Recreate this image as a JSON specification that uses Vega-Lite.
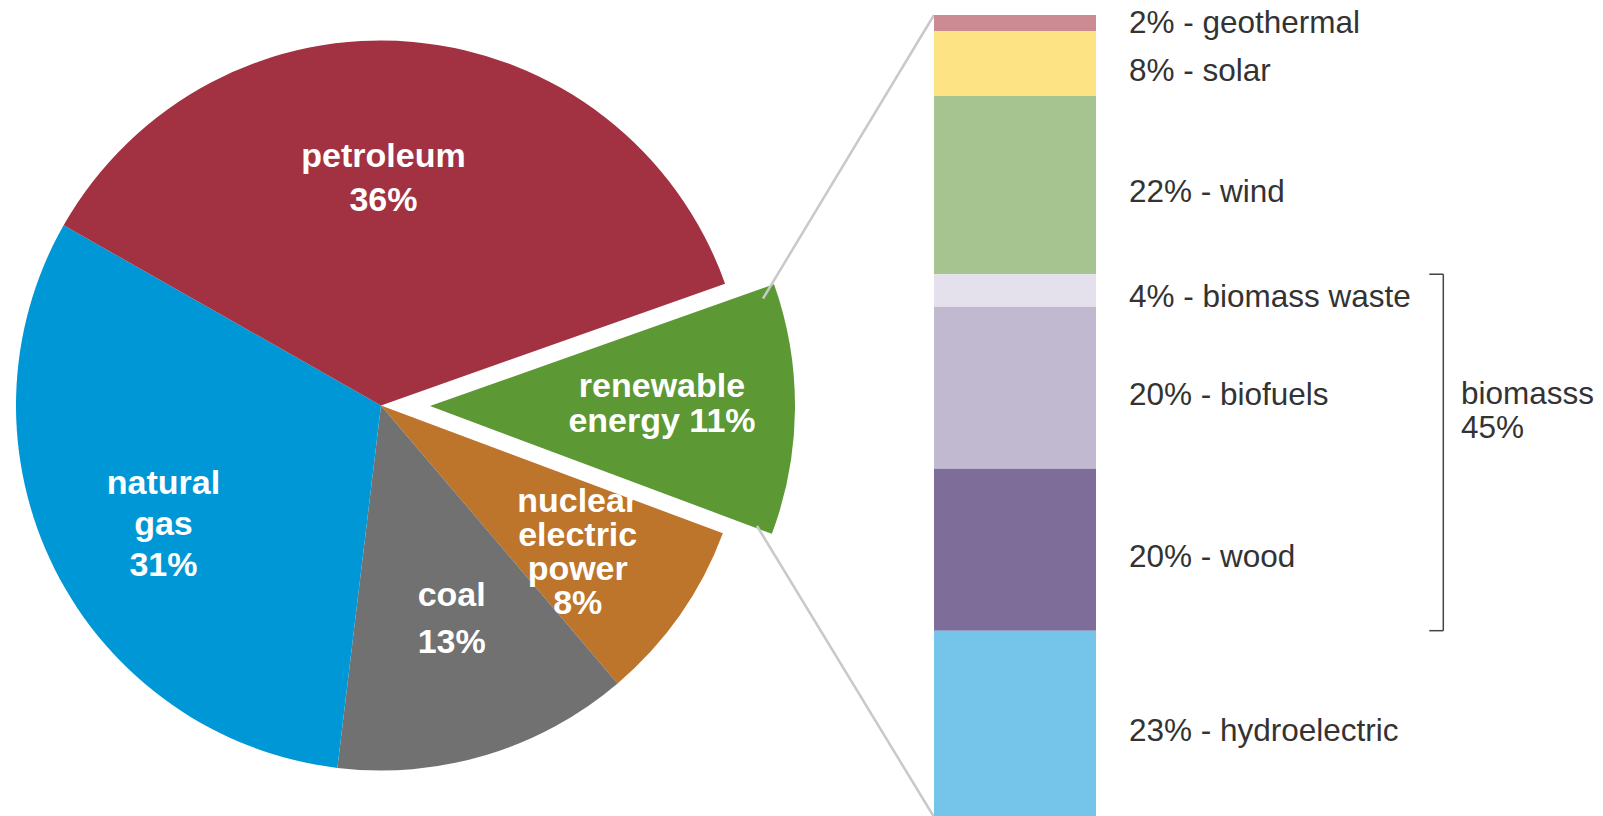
{
  "$schema": "https://vega.github.io/schema/vega-lite/v6.json",
  "autosize": {"type": "pad"},
  "padding": 0,
  "spacing": 0,
  "bounds": "flush",
  "background": "white",
  "config": {"view": {"stroke": null}},
  "resolve": {"scale": {"color": "independent", "x": "independent", "y": "independent", "theta": "independent"}},
  "datasets": {
    "pie": [
      {"source": "renewable energy", "label": "renewable\nenergy 11%", "pct": 11, "order": 1},
      {"source": "nuclear electric power", "label": "nuclear\nelectric\npower\n8%", "pct": 8, "order": 2},
      {"source": "coal", "label": "coal\n13%", "pct": 13, "order": 3},
      {"source": "natural gas", "label": "natural\ngas\n31%", "pct": 31, "order": 4},
      {"source": "petroleum", "label": "petroleum\n36%", "pct": 36, "order": 5}
    ],
    "renew": [
      {"source": "geothermal", "label": "2% - geothermal", "pct": 2, "order": 1, "group": "other"},
      {"source": "solar", "label": "8% - solar", "pct": 8, "order": 2, "group": "other"},
      {"source": "wind", "label": "22% - wind", "pct": 22, "order": 3, "group": "other"},
      {"source": "biomass waste", "label": "4% - biomass waste", "pct": 4, "order": 4, "group": "biomass"},
      {"source": "biofuels", "label": "20% - biofuels", "pct": 20, "order": 5, "group": "biomass"},
      {"source": "wood", "label": "20% - wood", "pct": 20, "order": 6, "group": "biomass"},
      {"source": "hydroelectric", "label": "23% - hydroelectric", "pct": 23, "order": 7, "group": "other"}
    ]
  },
  "hconcat": [
    {
      "width": 762,
      "height": 811,
      "data": {"name": "pie"},
      "encoding": {
        "theta": {"field": "pct", "type": "quantitative", "stack": true, "scale": {"range": [1.2305, 7.5137]}},
        "order": {"field": "order", "type": "quantitative"},
        "detail": {"field": "source", "type": "nominal"}
      },
      "layer": [
        {
          "mark": {"type": "arc", "radius": 365},
          "encoding": {
            "color": {"field": "source", "type": "nominal", "legend": null,
              "scale": {"domain": ["renewable energy", "nuclear electric power", "coal", "natural gas", "petroleum"],
                        "range": ["#5c9833", "#bd742b", "#717171", "#0097d7", "#a23241"]}},
            "opacity": {"condition": {"test": "datum.source === 'renewable energy'", "value": 0}, "value": 1}
          }
        },
        {
          "mark": {"type": "text", "radius": 227, "dx": -17.5, "dy": -22, "lineHeight": 44, "lineBreak": "\n", "font": "Liberation Sans", "fontWeight": "bold", "fontSize": 34, "color": "white", "align": "center", "baseline": "middle"},
          "encoding": {"text": {"condition": {"test": "datum.source === 'petroleum'", "field": "label", "type": "nominal"}, "value": ""}}
        },
        {
          "mark": {"type": "text", "radius": 248, "dx": 3.9, "dy": -33.3, "lineHeight": 41, "lineBreak": "\n", "font": "Liberation Sans", "fontWeight": "bold", "fontSize": 34, "color": "white", "align": "center", "baseline": "middle"},
          "encoding": {"text": {"condition": {"test": "datum.source === 'natural gas'", "field": "label", "type": "nominal"}, "value": ""}}
        },
        {
          "mark": {"type": "text", "radius": 226, "dx": 5.5, "dy": -25.4, "lineHeight": 47, "lineBreak": "\n", "font": "Liberation Sans", "fontWeight": "bold", "fontSize": 34, "color": "white", "align": "center", "baseline": "middle"},
          "encoding": {"text": {"condition": {"test": "datum.source === 'coal'", "field": "label", "type": "nominal"}, "value": ""}}
        },
        {
          "mark": {"type": "text", "radius": 246, "dx": -4.7, "dy": -45.2, "lineHeight": 34, "lineBreak": "\n", "font": "Liberation Sans", "fontWeight": "bold", "fontSize": 34, "color": "white", "align": "center", "baseline": "middle"},
          "encoding": {"text": {"condition": {"test": "datum.source === 'nuclear electric power'", "field": "label", "type": "nominal"}, "value": ""}}
        },
        {
          "mark": {"type": "arc", "radius": 365, "xOffset": 49, "yOffset": 0.5},
          "encoding": {
            "color": {"field": "source", "type": "nominal", "legend": null,
              "scale": {"domain": ["renewable energy", "nuclear electric power", "coal", "natural gas", "petroleum"],
                        "range": ["#5c9833", "#bd742b", "#717171", "#0097d7", "#a23241"]}},
            "opacity": {"condition": {"test": "datum.source === 'renewable energy'", "value": 1}, "value": 0}
          }
        },
        {
          "mark": {"type": "text", "radius": 232, "dx": 49, "dy": -20.7, "lineHeight": 35, "lineBreak": "\n", "font": "Liberation Sans", "fontWeight": "bold", "fontSize": 34, "color": "white", "align": "center", "baseline": "middle"},
          "encoding": {"text": {"condition": {"test": "datum.source === 'renewable energy'", "field": "label", "type": "nominal"}, "value": ""}}
        }
      ]
    },
    {
      "width": 841,
      "height": 816,
      "data": {"name": "renew"},
      "layer": [
        {
          "data": {"values": [{"edge": "top", "pct": 0}]},
          "mark": {"type": "rule", "color": "#c9c9c9", "strokeWidth": 2.5},
          "encoding": {
            "x": {"datum": "renewable energy", "type": "nominal", "bandPosition": 0, "axis": null, "scale": {"range": [172, 334], "paddingInner": 0, "paddingOuter": 0}},
            "y": {"field": "pct", "type": "quantitative", "axis": null, "scale": {"domain": [0, 99], "range": [15, 817], "nice": false}},
            "x2": {"value": 1},
            "y2": {"value": 298.5}
          }
        },
        {
          "data": {"values": [{"edge": "bottom", "pct": 99}]},
          "mark": {"type": "rule", "color": "#c9c9c9", "strokeWidth": 2.5},
          "encoding": {
            "x": {"datum": "renewable energy", "type": "nominal", "bandPosition": 0, "axis": null, "scale": {"range": [172, 334], "paddingInner": 0, "paddingOuter": 0}},
            "y": {"field": "pct", "type": "quantitative", "axis": null, "scale": {"domain": [0, 99], "range": [15, 817], "nice": false}},
            "x2": {"value": -5},
            "y2": {"value": 526}
          }
        },
        {
          "mark": {"type": "bar"},
          "encoding": {
            "x": {"datum": "renewable energy", "type": "nominal", "axis": null, "scale": {"range": [172, 334], "paddingInner": 0, "paddingOuter": 0}},
            "y": {"field": "pct", "type": "quantitative", "stack": "zero", "axis": null, "scale": {"domain": [0, 99], "range": [15, 817], "nice": false}},
            "order": {"field": "order", "type": "quantitative"},
            "color": {"field": "source", "type": "nominal", "legend": null,
              "scale": {"domain": ["geothermal", "solar", "wind", "biomass waste", "biofuels", "wood", "hydroelectric"],
                        "range": ["#cc8b93", "#fee385", "#a6c48f", "#e4e1ec", "#c1b9d0", "#7e6c99", "#74c5e9"]}}
          }
        },
        {
          "mark": {"type": "text", "align": "left", "baseline": "middle", "dx": 33, "dy": {"expr": "datum.source === 'geothermal' ? 1 : 8"}, "font": "Liberation Sans", "fontSize": 31.5, "color": "#333333"},
          "encoding": {
            "x": {"datum": "renewable energy", "type": "nominal", "bandPosition": 1, "axis": null, "scale": {"range": [172, 334], "paddingInner": 0, "paddingOuter": 0}},
            "y": {"field": "pct", "type": "quantitative", "stack": "zero", "bandPosition": 0.5, "axis": null, "scale": {"domain": [0, 99], "range": [15, 817], "nice": false}},
            "order": {"field": "order", "type": "quantitative"},
            "detail": {"field": "source", "type": "nominal"},
            "text": {"field": "label", "type": "nominal"}
          }
        },
        {
          "transform": [
            {"stack": "pct", "groupby": [], "sort": [{"field": "order", "order": "ascending"}], "as": ["s0", "s1"]},
            {"filter": "datum.group === 'biomass'"},
            {"aggregate": [{"op": "min", "field": "s0", "as": "top"}, {"op": "max", "field": "s1", "as": "bottom"}]}
          ],
          "layer": [
            {
              "mark": {"type": "rule", "color": "#444444", "strokeWidth": 1.5, "xOffset": 347.3},
              "encoding": {
                "x": {"datum": "renewable energy", "type": "nominal", "bandPosition": 1, "axis": null, "scale": {"range": [172, 334], "paddingInner": 0, "paddingOuter": 0}},
                "y": {"field": "top", "type": "quantitative", "axis": null, "scale": {"domain": [0, 99], "range": [15, 817], "nice": false}},
                "y2": {"field": "bottom"}
              }
            },
            {
              "transform": [{"fold": ["top", "bottom"], "as": ["end", "value"]}],
              "mark": {"type": "tick", "color": "#444444", "thickness": 1.5, "size": 14, "xOffset": 421.3, "opacity": 1},
              "encoding": {
                "x": {"datum": "renewable energy", "type": "nominal", "axis": null, "scale": {"range": [172, 334], "paddingInner": 0, "paddingOuter": 0}},
                "y": {"field": "value", "type": "quantitative", "axis": null, "scale": {"domain": [0, 99], "range": [15, 817], "nice": false}}
              }
            },
            {
              "mark": {"type": "text", "align": "left", "baseline": "middle", "dx": 365, "dy": 120.5, "lineBreak": "\n", "lineHeight": 34, "font": "Liberation Sans", "fontSize": 31.5, "color": "#333333"},
              "encoding": {
                "x": {"datum": "renewable energy", "type": "nominal", "bandPosition": 1, "axis": null, "scale": {"range": [172, 334], "paddingInner": 0, "paddingOuter": 0}},
                "y": {"field": "top", "type": "quantitative", "axis": null, "scale": {"domain": [0, 99], "range": [15, 817], "nice": false}},
                "text": {"value": "biomasss\n45%"}
              }
            }
          ]
        }
      ]
    }
  ]
}
